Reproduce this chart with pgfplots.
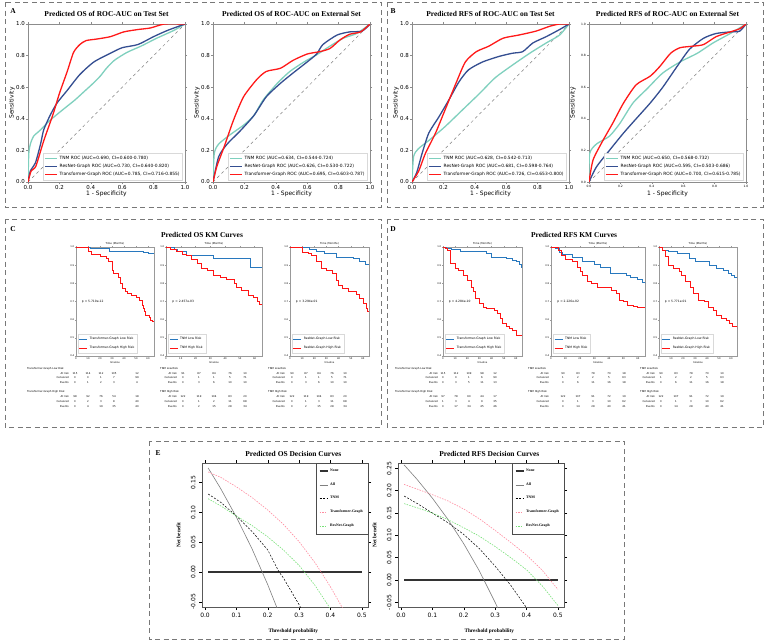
\documentclass[border=0pt]{standalone}
\usepackage{pgfplots}
\pgfplotsset{compat=1.18}
\usepackage{fontspec}
\setmainfont{Liberation Serif}
\setsansfont{DejaVu Sans}

\definecolor{tnmc}{RGB}{127,208,190}
\definecolor{resc}{RGB}{52,78,145}
\definecolor{trc}{RGB}{255,25,25}
\definecolor{kmblue}{RGB}{40,120,190}
\definecolor{kmred}{RGB}{255,20,20}
\definecolor{pbox}{RGB}{120,120,120}
\definecolor{dcapink}{RGB}{255,140,160}
\definecolor{dcagreen}{RGB}{120,225,120}

\newcommand{\fs}[1]{\fontsize{#1}{#1}\selectfont}

\pgfplotsset{
  roc/.style={
    scale only axis, width=157bp, height=158bp,
    xmin=0,xmax=1,ymin=0,ymax=1,
    xtick={0,0.2,0.4,0.6,0.8,1}, ytick={0,0.2,0.4,0.6,0.8,1},
    axis line style={draw=gray!90, line width=0.6bp},
    tick align=outside, major tick length=2bp, tick style={gray!90, line width=0.5bp},
    tick label style={font=\sffamily\fs{5.5}, inner sep=1bp},
    /pgf/number format/.cd, fixed, fixed zerofill, precision=1, assume math mode=true, /pgfplots/.cd,
    xlabel={1 - Specificity}, ylabel={Sensitivity},
    label style={font=\sffamily\fs{6}},
    xlabel style={at={(axis description cs:0.5,-0.072)}, anchor=center},
    ylabel style={at={(axis description cs:-0.102,0.5)}, anchor=center},
    every axis title/.style={at={(axis description cs:0.5,1.063)}, anchor=center, font=\bfseries\fs{7.5}},
    legend style={at={(0.985,0.012)}, anchor=south east, font=\sffamily\fs{4.4},
      draw=gray!30, fill=white, inner sep=0.8bp, row sep=-0.6bp, cells={anchor=west}},
    legend image code/.code={\draw[##1, line width=1.5bp] (0bp,0bp) -- (12bp,0bp);},
  },
  km/.style={
    scale only axis, height=109bp,
    xmin=0,xmax=65,ymin=0.4,ymax=1.0,
    xtick={0,10,20,30,40,50,60}, ytick={0.4,0.5,0.6,0.7,0.8,0.9,1.0},
    axis line style={draw=gray!80, line width=0.5bp},
    tick align=outside, major tick length=1bp, tick style={gray!80, line width=0.3bp},
    tick label style={font=\sffamily\fs{2.4}, inner sep=0.6bp},
    yticklabel style={/pgf/number format/.cd, fixed, fixed zerofill, precision=1, assume math mode=true},
    xticklabel style={/pgf/number format/assume math mode=true},
    title={Time (Months)},
    every axis title/.style={at={(axis description cs:0.5,1.028)}, anchor=center, font=\sffamily\fs{2.6}},
    xlabel={timeline}, xlabel style={at={(axis description cs:0.5,-0.065)}, anchor=center, font=\sffamily\fs{2.4}},
    legend style={at={(0.02,0.025)}, anchor=south west, font=\sffamily\fs{3.1},
      draw=gray!30, fill=white, inner sep=1.2bp, row sep=0.6bp, cells={anchor=west}},
    legend image code/.code={\draw[##1, line width=0.9bp] (0bp,0bp) -- (8bp,0bp);},
    every axis plot/.append style={const plot, line width=0.85bp},
  },
  dca/.style={
    scale only axis, width=166bp, height=144bp, xmin=-0.0096, xmax=0.5196,
    axis line style={draw=gray!70!black, line width=0.5bp},
    tick align=outside, major tick length=3bp, tick style={black, line width=0.4bp},
    xtick={0,0.1,0.2,0.3,0.4,0.5},
    xticklabel style={font=\sffamily\fs{6}, /pgf/number format/.cd, fixed, fixed zerofill, precision=1, assume math mode=true},
    yticklabel style={font=\sffamily\fs{6}, rotate=90, anchor=south, /pgf/number format/.cd, fixed, fixed zerofill, precision=2, assume math mode=true},
    xlabel={Threshold probability}, ylabel={Net benefit},
    label style={font=\bfseries\fs{5.3}},
    xlabel style={at={(axis description cs:0.55,-0.167)}, anchor=center},
    ylabel style={at={(axis description cs:-0.142,0.5)}, anchor=center},
    every axis title/.style={at={(axis description cs:0.55,1.0625)}, anchor=center, font=\bfseries\fs{7.5}},
    legend style={at={(1,1)}, anchor=north east, draw=black!70, font=\bfseries\fs{3.8},
      row sep=5.6bp, inner xsep=3bp, inner ysep=4bp, cells={anchor=west}},
    legend image code/.code={\draw[##1] (0bp,0bp) -- (8bp,0bp);},
  },
}

\newcommand{\setcols}[7]{\def\ca{#1}\def\cb{#2}\def\cc{#3}\def\cd{#4}\def\ce{#5}\def\rx{#6}\def\lx{#7}}
\newcommand{\rrow}[7]{\node[anchor=east] at (\rx bp,-#1bp) {#2};
  \node at (\ca bp,-#1bp){#3}; \node at (\cb bp,-#1bp){#4}; \node at (\cc bp,-#1bp){#5};
  \node at (\cd bp,-#1bp){#6}; \node at (\ce bp,-#1bp){#7};}
\newcommand{\rhead}[2]{\node[anchor=west] at (\lx bp,-#1bp){#2};}

\begin{document}
\begin{tikzpicture}
\path[use as bounding box] (0,0) rectangle (769bp,-643bp);
\fill[white] (0,0) rectangle (769bp,-643bp);

% panel borders
\begin{scope}[draw=pbox, line width=0.8bp, dash pattern=on 5bp off 3.5bp]
\draw (5bp,-2bp) rectangle (381bp,-207bp);
\draw (387bp,-2bp) rectangle (763bp,-207bp);
\draw (5bp,-219bp) rectangle (381bp,-427bp);
\draw (387bp,-219bp) rectangle (763bp,-427bp);
\draw (149bp,-441bp) rectangle (624bp,-639bp);
\end{scope}

% panel letters and KM titles
\begin{scope}[font=\bfseries\fs{7.5}]
\node at (13bp,-11bp) {A};
\node at (393bp,-11bp) {B};
\node at (13bp,-229bp) {C};
\node at (393bp,-229bp) {D};
\node at (158bp,-453bp) {E};
\node at (202bp,-235bp) {Predicted OS KM Curves};
\node at (574bp,-235bp) {Predicted RFS KM Curves};
\end{scope}

%================ A: OS ROC test
\begin{axis}[roc, at={(28bp,-24bp)}, anchor=north west, title={Predicted OS of ROC-AUC on Test Set}]
\addplot[gray, dashed, line width=0.5bp, forget plot] coordinates {(0,0) (1,1)};
\addplot[tnmc, line width=1.3bp, smooth, tension=0.4] coordinates {(0,0) (0.005,0.18) (0.015,0.24) (0.036,0.29) (0.08,0.33) (0.14,0.39) (0.2,0.44) (0.25,0.48) (0.3,0.52) (0.355,0.57) (0.41,0.62) (0.46,0.67) (0.5,0.72) (0.55,0.77) (0.63,0.82) (0.72,0.86) (0.82,0.91) (0.93,0.96) (1,1)};
\addlegendentry{TNM ROC (AUC=0.690, CI=0.600-0.780)}
\addplot[resc, line width=1.3bp, smooth, tension=0.4] coordinates {(0,0) (0.015,0.07) (0.047,0.12) (0.08,0.24) (0.1,0.33) (0.14,0.42) (0.185,0.5) (0.25,0.58) (0.33,0.68) (0.42,0.76) (0.525,0.815) (0.6,0.85) (0.7,0.87) (0.8,0.92) (0.89,0.96) (1,1)};
\addlegendentry{ResNet-Graph ROC (AUC=0.730, CI=0.640-0.820)}
\addplot[trc, line width=1.3bp, smooth, tension=0.4] coordinates {(0,0) (0.02,0.07) (0.05,0.1) (0.1,0.26) (0.16,0.43) (0.2,0.56) (0.25,0.7) (0.29,0.82) (0.33,0.87) (0.37,0.895) (0.44,0.905) (0.525,0.92) (0.61,0.95) (0.7,0.965) (0.78,0.975) (0.87,1.0) (1,1)};
\addlegendentry{Transformer-Graph ROC (AUC=0.785, CI=0.716-0.855)}
\end{axis}

%================ A: OS ROC external
\begin{axis}[roc, at={(213bp,-24bp)}, anchor=north west, title={Predicted OS of ROC-AUC on External Set}]
\addplot[gray, dashed, line width=0.5bp, forget plot] coordinates {(0,0) (1,1)};
\addplot[tnmc, line width=1.3bp, smooth, tension=0.4] coordinates {(0,0) (0.008,0.18) (0.036,0.24) (0.11,0.3) (0.195,0.36) (0.26,0.42) (0.32,0.52) (0.41,0.625) (0.49,0.7) (0.58,0.76) (0.66,0.805) (0.745,0.86) (0.83,0.91) (0.915,0.94) (1,1)};
\addlegendentry{TNM ROC (AUC=0.634, CI=0.544-0.724)}
\addplot[resc, line width=1.3bp, smooth, tension=0.4] coordinates {(0,0) (0.036,0.16) (0.09,0.24) (0.17,0.32) (0.26,0.42) (0.34,0.54) (0.43,0.625) (0.51,0.69) (0.6,0.76) (0.66,0.81) (0.7,0.87) (0.79,0.93) (0.87,0.95) (0.95,0.955) (1,1)};
\addlegendentry{ResNet-Graph ROC (AUC=0.626, CI=0.530-0.722)}
\addplot[trc, line width=1.3bp, smooth, tension=0.4] coordinates {(0,0) (0.025,0.1) (0.07,0.22) (0.13,0.39) (0.195,0.54) (0.28,0.65) (0.34,0.7) (0.43,0.72) (0.51,0.77) (0.6,0.81) (0.68,0.825) (0.745,0.845) (0.81,0.9) (0.87,0.935) (0.94,0.95) (1,1)};
\addlegendentry{Transformer-Graph ROC (AUC=0.695, CI=0.603-0.787)}
\end{axis}

%================ B: RFS ROC test
\begin{axis}[roc, at={(412bp,-24bp)}, anchor=north west, title={Predicted RFS of ROC-AUC on Test Set}]
\addplot[gray, dashed, line width=0.5bp, forget plot] coordinates {(0,0) (1,1)};
\addplot[tnmc, line width=1.3bp, smooth, tension=0.4] coordinates {(0,0) (0.01,0.16) (0.04,0.21) (0.11,0.265) (0.21,0.35) (0.32,0.455) (0.43,0.56) (0.53,0.66) (0.64,0.74) (0.75,0.815) (0.855,0.88) (0.94,0.93) (1,1)};
\addlegendentry{TNM ROC (AUC=0.628, CI=0.542-0.713)}
\addplot[resc, line width=1.3bp, smooth, tension=0.4] coordinates {(0,0) (0.03,0.06) (0.064,0.18) (0.107,0.31) (0.17,0.41) (0.235,0.52) (0.3,0.635) (0.36,0.71) (0.45,0.76) (0.555,0.795) (0.64,0.815) (0.705,0.825) (0.77,0.88) (0.855,0.92) (0.94,0.965) (1,1)};
\addlegendentry{ResNet-Graph ROC (AUC=0.681, CI=0.598-0.764)}
\addplot[trc, line width=1.3bp, smooth, tension=0.4] coordinates {(0,0) (0.043,0.07) (0.085,0.18) (0.15,0.31) (0.21,0.455) (0.28,0.625) (0.34,0.76) (0.41,0.825) (0.49,0.86) (0.58,0.91) (0.68,0.93) (0.79,0.955) (0.875,0.985) (0.94,1.0) (1,1)};
\addlegendentry{Transformer-Graph ROC (AUC=0.726, CI=0.653-0.800)}
\end{axis}

%================ B: RFS ROC external
\begin{axis}[roc, at={(589bp,-24bp)}, anchor=north west, title={Predicted RFS of ROC-AUC on External Set}, tick label style={font=\sffamily\fs{3}}]
\addplot[gray, dashed, line width=0.5bp, forget plot] coordinates {(0,0) (1,1)};
\addplot[tnmc, line width=1.3bp, smooth, tension=0.4] coordinates {(0,0) (0.004,0.18) (0.047,0.24) (0.13,0.29) (0.196,0.37) (0.28,0.5) (0.37,0.59) (0.47,0.69) (0.58,0.76) (0.69,0.815) (0.79,0.88) (0.9,0.94) (1,1)};
\addlegendentry{TNM ROC (AUC=0.650, CI=0.568-0.732)}
\addplot[resc, line width=1.3bp, smooth, tension=0.4] coordinates {(0,0) (0.047,0.095) (0.13,0.2) (0.22,0.31) (0.3,0.4) (0.39,0.5) (0.47,0.6) (0.56,0.73) (0.64,0.84) (0.73,0.91) (0.81,0.94) (0.9,0.95) (0.96,0.955) (1,1)};
\addlegendentry{ResNet-Graph ROC (AUC=0.595, CI=0.503-0.686)}
\addplot[trc, line width=1.3bp, smooth, tension=0.4] coordinates {(0,0) (0.026,0.14) (0.09,0.265) (0.15,0.37) (0.22,0.5) (0.3,0.615) (0.39,0.67) (0.45,0.73) (0.52,0.815) (0.58,0.85) (0.665,0.86) (0.73,0.87) (0.81,0.92) (0.9,0.95) (0.96,0.97) (1,1)};
\addlegendentry{Transformer-Graph ROC (AUC=0.700, CI=0.615-0.785)}
\end{axis}

%================ C: OS KM
\begin{axis}[km, width=78bp, at={(76bp,-247bp)}, anchor=north west]
\addplot[kmblue] coordinates {(0,1) (12,0.99) (28,0.978) (56,0.97) (60,0.963) (65,0.963)};
\addlegendentry{Transformer-Graph Low Risk}
\addplot[kmred] coordinates {(0,1) (10,0.975) (13,0.958) (20,0.95) (25,0.935) (27,0.918) (30,0.87) (31,0.855) (35,0.83) (37,0.8) (39,0.77) (41,0.755) (43,0.744) (46,0.735) (50,0.725) (53,0.707) (55,0.68) (56,0.66) (57,0.645) (58,0.625) (61,0.61) (62,0.597) (64,0.59) (65,0.59)};
\addlegendentry{Transformer-Graph High Risk}
\node[anchor=west, font=\sffamily\fs{3}] at (axis cs:2,0.7) {p = 5.710e-12};
\end{axis}

\begin{axis}[km, width=96bp, at={(166bp,-247bp)}, anchor=north west]
\addplot[kmblue] coordinates {(0,1) (6,0.985) (8,0.975) (14,0.955) (32,0.936) (57,0.89) (65,0.89)};
\addlegendentry{TNM Low Risk}
\addplot[kmred] coordinates {(0,1) (3,0.985) (7,0.975) (11,0.96) (14,0.955) (17,0.93) (21,0.91) (24,0.88) (28,0.87) (32,0.845) (37,0.83) (41,0.82) (46,0.8) (48,0.78) (51,0.76) (56,0.735) (59,0.72) (62,0.7) (63,0.685) (65,0.685)};
\addlegendentry{TNM High Risk}
\node[anchor=west, font=\sffamily\fs{3}] at (axis cs:2,0.7) {p = 2.457e-03};
\end{axis}

\begin{axis}[km, width=79bp, at={(290bp,-247bp)}, anchor=north west]
\addplot[kmblue] coordinates {(0,1) (16,0.985) (22,0.975) (28,0.963) (38,0.945) (52,0.935) (57,0.92) (62,0.903) (65,0.903)};
\addlegendentry{ResNet-Graph Low Risk}
\addplot[kmred] coordinates {(0,1) (10,0.97) (15,0.963) (18,0.954) (22,0.918) (26,0.881) (30,0.87) (35,0.853) (38,0.817) (40,0.79) (43,0.771) (48,0.753) (55,0.74) (57,0.716) (60,0.689) (63,0.661) (64,0.643) (65,0.643)};
\addlegendentry{ResNet-Graph High Risk}
\node[anchor=west, font=\sffamily\fs{3}] at (axis cs:2,0.7) {p = 3.294e-01};
\end{axis}

%================ D: RFS KM
\begin{axis}[km, width=79bp, at={(443bp,-247bp)}, anchor=north west]
\addplot[kmblue] coordinates {(0,1) (3,0.99) (7,0.985) (14,0.973) (36,0.963) (40,0.945) (52,0.936) (57,0.927) (60,0.918) (63,0.903) (64.5,0.89) (65,0.89)};
\addlegendentry{Transformer-Graph Low Risk}
\addplot[kmred] coordinates {(0,1) (2,0.99) (4,0.982) (6,0.908) (10,0.881) (13,0.87) (17,0.845) (20,0.817) (23,0.78) (25,0.753) (27,0.716) (30,0.689) (33,0.67) (36,0.66) (42,0.652) (45,0.634) (47,0.606) (49,0.579) (52,0.561) (55,0.552) (57,0.54) (60,0.515) (65,0.515)};
\addlegendentry{Transformer-Graph High Risk}
\node[anchor=west, font=\sffamily\fs{3}] at (axis cs:2,0.7) {p = 4.284e-10};
\end{axis}

\begin{axis}[km, width=94bp, at={(551bp,-247bp)}, anchor=north west]
\addplot[kmblue] coordinates {(0,1) (3,0.99) (6,0.97) (8,0.958) (15,0.945) (22,0.918) (30,0.905) (34,0.89) (41,0.853) (52,0.845) (55,0.835) (60,0.82) (63,0.804) (65,0.8)};
\addlegendentry{TNM Low Risk}
\addplot[kmred] coordinates {(0,1) (5,0.98) (7,0.955) (10,0.93) (15,0.918) (18,0.89) (20,0.863) (22,0.845) (25,0.808) (28,0.8) (32,0.78) (42,0.762) (45,0.744) (47,0.707) (50,0.698) (53,0.68) (57,0.672) (60,0.665) (65,0.665)};
\addlegendentry{TNM High Risk}
\node[anchor=west, font=\sffamily\fs{3}] at (axis cs:2,0.7) {p = 2.226e-02};
\end{axis}

\begin{axis}[km, width=78bp, at={(659bp,-247bp)}, anchor=north west]
\addplot[kmblue] coordinates {(0,1) (3,0.98) (8,0.973) (15,0.963) (25,0.936) (30,0.918) (42,0.9) (48,0.88) (54,0.87) (58,0.853) (60,0.845) (63,0.835) (65,0.83)};
\addlegendentry{ResNet-Graph Low Risk}
\addplot[kmred] coordinates {(0,1) (3,0.98) (5,0.95) (8,0.9) (12,0.881) (17,0.863) (19,0.845) (22,0.808) (26,0.78) (29,0.744) (33,0.707) (38,0.698) (41,0.67) (45,0.652) (48,0.625) (52,0.606) (56,0.597) (59,0.579) (61,0.561) (65,0.55)};
\addlegendentry{ResNet-Graph High Risk}
\node[anchor=west, font=\sffamily\fs{3}] at (axis cs:2,0.7) {p = 5.771e-01};
\end{axis}

% risk tables
\begin{scope}[font=\sffamily\fs{2.6}, inner sep=0pt]
\setcols{75}{88}{101}{114}{137}{69}{27}
\rhead{369}{Transformer-Graph Low Risk}
\rrow{373.5}{At risk}{115}{114}{112}{105}{12}
\rrow{378}{Censored}{0}{0}{1}{7}{99}
\rrow{383}{Events}{0}{1}{2}{3}{4}
\rhead{392}{Transformer-Graph High Risk}
\rrow{397}{At risk}{98}{92}{76}{54}{18}
\rrow{402}{Censored}{0}{2}{3}{8}{40}
\rrow{407}{Events}{0}{4}{19}{35}{40}

\setcols{183}{199}{214}{230}{245}{177}{160}
\rhead{369}{TNM Low Risk}
\rrow{373.5}{At risk}{91}{87}{84}{76}{10}
\rrow{378}{Censored}{0}{1}{1}{5}{71}
\rrow{383}{Events}{0}{3}{6}{10}{10}
\rhead{392}{TNM High Risk}
\rrow{397}{At risk}{122}{119}{104}{83}{20}
\rrow{402}{Censored}{0}{1}{2}{11}{68}
\rrow{407}{Events}{0}{2}{15}{28}{34}

\setcols{292}{306}{319}{332}{345}{285}{268}
\rhead{369}{TNM Low Risk}
\rrow{373.5}{At risk}{90}{87}{84}{76}{10}
\rrow{378}{Censored}{0}{1}{1}{5}{71}
\rrow{383}{Events}{0}{3}{6}{10}{10}
\rhead{392}{TNM High Risk}
\rrow{397}{At risk}{122}{119}{104}{83}{20}
\rrow{402}{Censored}{0}{1}{3}{11}{68}
\rrow{407}{Events}{0}{2}{15}{28}{34}

\setcols{443}{456}{469}{482}{495}{438}{395}
\rhead{369}{Transformer-Graph Low Risk}
\rrow{373.5}{At risk}{115}{112}{109}{98}{12}
\rrow{378}{Censored}{0}{0}{1}{6}{90}
\rrow{383}{Events}{0}{3}{5}{11}{13}
\rhead{392}{Transformer-Graph High Risk}
\rrow{397}{At risk}{97}{78}{60}{44}{17}
\rrow{402}{Censored}{1}{3}{4}{9}{35}
\rrow{407}{Events}{0}{17}{34}{45}{46}

\setcols{563}{578}{593}{609}{624}{549}{528}
\rhead{369}{TNM Low Risk}
\rrow{373.5}{At risk}{90}{83}{78}{70}{18}
\rrow{378}{Censored}{1}{2}{2}{5}{63}
\rrow{383}{Events}{0}{6}{11}{16}{18}
\rhead{392}{TNM High Risk}
\rrow{397}{At risk}{122}{107}{91}{72}{19}
\rrow{402}{Censored}{0}{1}{3}{10}{62}
\rrow{407}{Events}{0}{14}{28}{40}{41}

\setcols{661}{676}{691}{707}{722}{655}{640}
\rhead{369}{TNM Low Risk}
\rrow{373.5}{At risk}{90}{83}{78}{70}{10}
\rrow{378}{Censored}{1}{2}{2}{5}{63}
\rrow{383}{Events}{0}{6}{11}{16}{18}
\rhead{392}{TNM High Risk}
\rrow{397}{At risk}{122}{107}{91}{72}{19}
\rrow{402}{Censored}{0}{1}{3}{10}{62}
\rrow{407}{Events}{0}{14}{28}{40}{41}
\end{scope}

%================ E: DCA
\begin{axis}[dca, at={(202bp,-463bp)}, anchor=north west, ymin=-0.0588, ymax=0.183,
  ytick={-0.05,0,0.05,0.1,0.15}, title={Predicted OS Decision Curves}]
\addplot[gray!40!black, line width=1.4bp] coordinates {(0.01,0) (0.5,0)};
\addlegendentry{None}
\addplot[gray, line width=0.6bp] coordinates {(0.01,0.1747) (0.05,0.140) (0.1,0.0922) (0.15,0.0388) (0.2,-0.0213) (0.23,-0.061)};
\addlegendentry{All}
\addplot[black, line width=0.5bp, dash pattern=on 2bp off 1.5bp] coordinates {(0.01,0.131) (0.05,0.117) (0.1,0.094) (0.15,0.068) (0.2,0.037) (0.236,0.0) (0.25,-0.010) (0.3,-0.055) (0.31,-0.065)};
\addlegendentry{TNM}
\addplot[dcapink, line width=0.6bp, dash pattern=on 1.5bp off 1.2bp] coordinates {(0.01,0.168) (0.05,0.159) (0.1,0.143) (0.15,0.125) (0.2,0.104) (0.25,0.080) (0.3,0.051) (0.35,0.016) (0.37,0.0) (0.4,-0.025) (0.44,-0.062)};
\addlegendentry{Transformer-Graph}
\addplot[dcagreen, line width=0.6bp, dash pattern=on 1.5bp off 1.2bp] coordinates {(0.01,0.123) (0.05,0.111) (0.1,0.094) (0.15,0.078) (0.2,0.059) (0.25,0.037) (0.3,0.011) (0.35,-0.022) (0.4,-0.062)};
\addlegendentry{ResNet-Graph}
\end{axis}

\begin{axis}[dca, at={(398bp,-463bp)}, anchor=north west, ymin=-0.0605, ymax=0.262,
  ytick={-0.05,0,0.05,0.1,0.15,0.2,0.25}, title={Predicted RFS Decision Curves}]
\addplot[gray!40!black, line width=1.4bp] coordinates {(0.01,0) (0.5,0)};
\addlegendentry{None}
\addplot[gray, line width=0.6bp] coordinates {(0.01,0.2576) (0.05,0.2263) (0.1,0.1833) (0.15,0.1353) (0.2,0.0812) (0.25,0.020) (0.3,-0.050) (0.31,-0.0652)};
\addlegendentry{All}
\addplot[black, line width=0.5bp, dash pattern=on 2bp off 1.5bp] coordinates {(0.01,0.188) (0.05,0.172) (0.1,0.150) (0.15,0.128) (0.2,0.102) (0.25,0.070) (0.3,0.031) (0.35,-0.012) (0.4,-0.062)};
\addlegendentry{TNM}
\addplot[dcapink, line width=0.6bp, dash pattern=on 1.5bp off 1.2bp] coordinates {(0.01,0.214) (0.05,0.204) (0.1,0.191) (0.15,0.177) (0.2,0.159) (0.25,0.137) (0.3,0.111) (0.35,0.084) (0.4,0.056) (0.45,0.022) (0.5,-0.021)};
\addlegendentry{Transformer-Graph}
\addplot[dcagreen, line width=0.6bp, dash pattern=on 1.5bp off 1.2bp] coordinates {(0.01,0.171) (0.05,0.162) (0.1,0.150) (0.15,0.135) (0.2,0.117) (0.25,0.098) (0.3,0.075) (0.35,0.050) (0.4,0.023) (0.45,-0.013) (0.5,-0.057)};
\addlegendentry{ResNet-Graph}
\end{axis}
\end{tikzpicture}
\end{document}
